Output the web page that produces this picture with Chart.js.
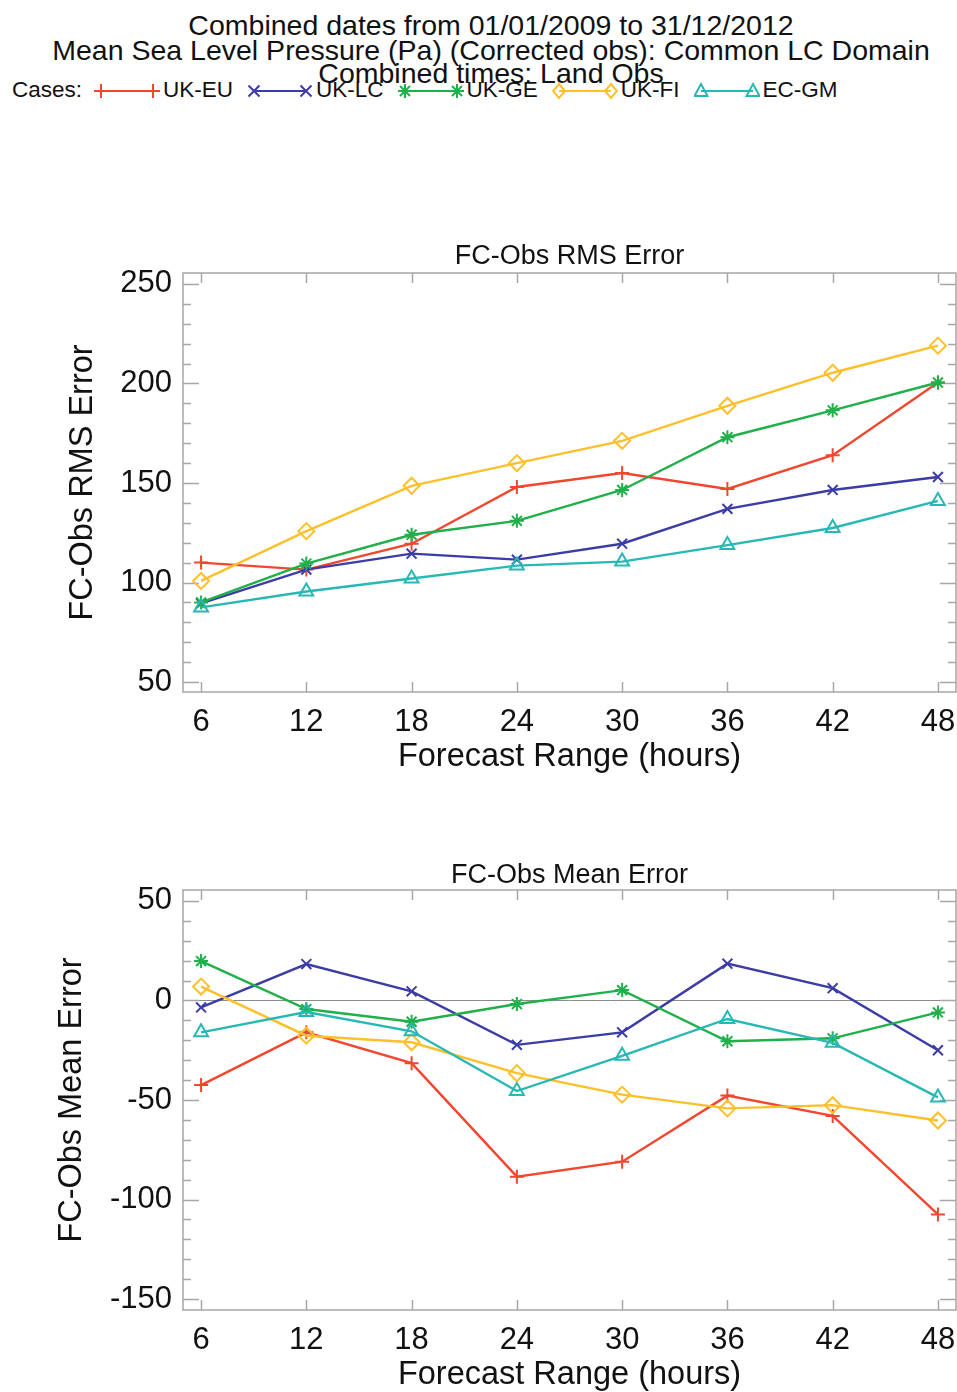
<!DOCTYPE html>
<html>
<head>
<meta charset="utf-8">
<script src="https://cdn.jsdelivr.net/npm/chart.js@4.4.1/dist/chart.umd.min.js"></script>
<style>
html,body{margin:0;padding:0;background:#fff;}
body{width:957px;height:1392px;overflow:hidden;position:relative;font-family:"Liberation Sans",Arial,Helvetica,sans-serif;color:#111;}
.hl{position:absolute;left:0;width:982px;text-align:center;font-size:28.5px;line-height:24px;white-space:nowrap;}
#legend{position:absolute;left:12px;top:78px;height:24px;display:flex;align-items:center;font-size:22.5px;line-height:24px;white-space:nowrap;}
#legend .cap{margin-right:12px;}
#legend svg{display:block;}
#legend .lab{margin-left:3px;margin-right:14px;}
canvas{position:absolute;left:0;}
#c1{top:230px;}
#c2{top:848px;}
</style>
</head>
<body>
<div class="hl" style="top:13px">Combined dates from 01/01/2009 to 31/12/2012</div>
<div class="hl" style="top:38px">Mean Sea Level Pressure (Pa) (Corrected obs): Common LC Domain</div>
<div class="hl" style="top:61px">Combined times: Land Obs</div>
<div id="legend"><span class="cap">Cases:</span></div>
<canvas id="c1" width="957" height="560"></canvas>
<canvas id="c2" width="957" height="560"></canvas>
<script>
// ---------------- data ----------------
const hours = [6, 12, 18, 24, 30, 36, 42, 48];
const seriesNames = ['UK-EU', 'UK-LC', 'UK-GE', 'UK-FI', 'EC-GM'];

const rmsUKEU = [110, 106.5, 119.5, 148, 155, 147, 164, 200.5];
const rmsUKLC = [89.5, 106.5, 114.5, 111.5, 119.5, 137, 146.5, 153];
const rmsUKGE = [90, 109.5, 124, 131, 146.5, 173, 186.5, 200.5];
const rmsUKFI = [100.8, 125.8, 148.6, 160, 171.2, 188.8, 205.4, 219];
const rmsECGM = [87.5, 95.5, 102, 108.5, 110.5, 118.8, 127.4, 141];

const meanUKEU = [-42.5, -16, -31.5, -88.5, -81, -47.8, -58, -107.5];
const meanUKLC = [-3.5, 18.3, 4.6, -22.3, -16, 18.5, 6.2, -25];
const meanUKGE = [19.8, -4.3, -10.7, -1.8, 5.2, -20.5, -19, -6];
const meanUKFI = [7, -17.7, -21, -36.5, -47.3, -54.2, -52.6, -60.3];
const meanECGM = [-16, -5.8, -15.5, -45.5, -27.8, -9.3, -21.3, -48.7];

const rmsTicks = [50, 100, 150, 200, 250];
const meanTicks = [-150, -100, -50, 0, 50];

// ---------------- styles ----------------
const colors = ['#f2462f', '#3c3ca6', '#1fb04a', '#fdc02a', '#27b8b4'];
const pStyles = ['cross', 'crossRot', 'star', 'rectRot', 'triangle'];
const pRadius = [7, 7, 7, 8, 8];
const FONT = '"Liberation Sans", Arial, Helvetica, sans-serif';
const INK = '#111';

Chart.defaults.font.family = FONT;
Chart.defaults.color = INK;

// ---------------- legend (HTML + SVG samples) ----------------
function markerPath(style, x, y) {
  switch (style) {
    case 'cross': return `M${x-7} ${y}H${x+7}M${x} ${y-7}V${y+7}`;
    case 'crossRot': return `M${x-5.5} ${y-5.5}L${x+5.5} ${y+5.5}M${x+5.5} ${y-5.5}L${x-5.5} ${y+5.5}`;
    case 'star': return `M${x-7} ${y}H${x+7}M${x} ${y-7}V${y+7}M${x-5} ${y-5}L${x+5} ${y+5}M${x+5} ${y-5}L${x-5} ${y+5}`;
    case 'rectRot': return `M${x} ${y-7}L${x+6} ${y}L${x} ${y+7}L${x-6} ${y}Z`;
    case 'triangle': return `M${x} ${y-7}L${x+6.5} ${y+5}L${x-6.5} ${y+5}Z`;
  }
  return '';
}
const legendEl = document.getElementById('legend');
seriesNames.forEach((n, i) => {
  const c = colors[i];
  const svg = `<svg width="66" height="22" viewBox="0 0 66 22"><line x1="7" y1="12" x2="59" y2="12" stroke="${c}" stroke-width="2.2"/>` +
    `<path d="${markerPath(pStyles[i], 7, 12)}${markerPath(pStyles[i], 59, 12)}" stroke="${c}" stroke-width="2" fill="none"/></svg>`;
  const wrap = document.createElement('span');
  wrap.style.display = 'flex';
  wrap.style.alignItems = 'center';
  wrap.innerHTML = svg + `<span class="lab">${n}</span>`;
  legendEl.appendChild(wrap);
});

// ---------------- frame / ticks plugin ----------------
const framePlugin = {
  id: 'frame',
  beforeDatasetsDraw(chart, args, opts) {
    const { ctx, chartArea: a, scales: { x, y } } = chart;
    ctx.save();
    if (opts.zero) {
      const p = Math.round(y.getPixelForValue(0)) + 0.5;
      ctx.strokeStyle = '#8c8c8c';
      ctx.lineWidth = 1;
      ctx.beginPath(); ctx.moveTo(a.left, p); ctx.lineTo(a.right, p); ctx.stroke();
    }
    ctx.strokeStyle = '#a6a6a6';
    ctx.lineWidth = 1.5;
    ctx.strokeRect(a.left, a.top, a.right - a.left, a.bottom - a.top);
    const start = Math.ceil(y.min / 10) * 10;
    for (let v = start; v <= y.max; v += 10) {
      const p = Math.round(y.getPixelForValue(v)) + 0.5;
      const len = (v % 50 === 0) ? 16 : 8;
      ctx.beginPath();
      ctx.moveTo(a.left, p); ctx.lineTo(a.left + len, p);
      ctx.moveTo(a.right, p); ctx.lineTo(a.right - len, p);
      ctx.stroke();
    }
    x.ticks.forEach(t => {
      const p = Math.round(x.getPixelForValue(t.value)) + 0.5;
      ctx.beginPath();
      ctx.moveTo(p, a.bottom); ctx.lineTo(p, a.bottom - 10);
      ctx.moveTo(p, a.top); ctx.lineTo(p, a.top + 10);
      ctx.stroke();
    });
    ctx.restore();
  }
};

function buildSets(arrs) {
  return arrs.map((vals, i) => ({
    label: seriesNames[i],
    data: hours.map((h, k) => ({ x: h, y: vals[k] })),
    borderColor: colors[i],
    backgroundColor: 'rgba(0,0,0,0)',
    borderWidth: 2.4,
    pointStyle: pStyles[i],
    pointRadius: pRadius[i],
    pointBorderWidth: 2,
    pointBorderColor: colors[i],
    pointBackgroundColor: 'rgba(0,0,0,0)',
    tension: 0,
    clip: false,
    order: seriesNames.length - i
  }));
}

function noPad(s) { s.paddingLeft = 0; s.paddingRight = 0; s.paddingTop = 0; s.paddingBottom = 0; }

function makeChart(id, arrs, yMin, yMax, yTicks, title, titlePad, yTitle, yTitlePad, zero) {
  return new Chart(document.getElementById(id), {
    type: 'line',
    data: { datasets: buildSets(arrs) },
    plugins: [framePlugin],
    options: {
      responsive: false,
      maintainAspectRatio: false,
      devicePixelRatio: 1,
      animation: false,
      layout: { autoPadding: false, padding: { left: 0, right: 1, top: 0, bottom: 13.4 } },
      plugins: {
        legend: { display: false },
        tooltip: { enabled: false },
        frame: { zero: zero },
        title: {
          display: true, text: title, fullSize: false, color: INK,
          font: { size: 27, weight: 'normal', lineHeight: 1 },
          padding: titlePad
        }
      },
      scales: {
        x: {
          type: 'linear', min: 4.97, max: 49.03,
          afterBuildTicks: s => { s.ticks = hours.map(v => ({ value: v })); },
          afterFit: s => { s.height = 84.6; noPad(s); },
          grid: { display: false, drawTicks: false },
          border: { display: false },
          ticks: { padding: 12, color: INK, font: { size: 31 }, maxRotation: 0, autoSkip: false },
          title: { display: true, text: 'Forecast Range (hours)', color: INK, font: { size: 32.5 }, padding: { top: 0, bottom: 0 } }
        },
        y: {
          type: 'linear', min: yMin, max: yMax,
          afterBuildTicks: s => { s.ticks = yTicks.map(v => ({ value: v })); },
          afterFit: s => { s.width = 183; noPad(s); },
          grid: { display: false, drawTicks: false },
          border: { display: false },
          ticks: { padding: 11, color: INK, font: { size: 31 } },
          title: { display: true, text: yTitle, color: INK, font: { size: 32.5 }, padding: { top: yTitlePad + 1.5, bottom: 0 } }
        }
      }
    }
  });
}

makeChart('c1', [rmsUKEU, rmsUKLC, rmsUKGE, rmsUKFI, rmsECGM], 45, 255.5, rmsTicks,
  'FC-Obs RMS Error', { top: 13.5, bottom: 2.5 }, 'FC-Obs RMS Error', 62.5, false);
makeChart('c2', [meanUKEU, meanUKLC, meanUKGE, meanUKFI, meanECGM], -155.5, 55.5, meanTicks,
  'FC-Obs Mean Error', { top: 14.5, bottom: 0.5 }, 'FC-Obs Mean Error', 51, true);
</script>
</body>
</html>
